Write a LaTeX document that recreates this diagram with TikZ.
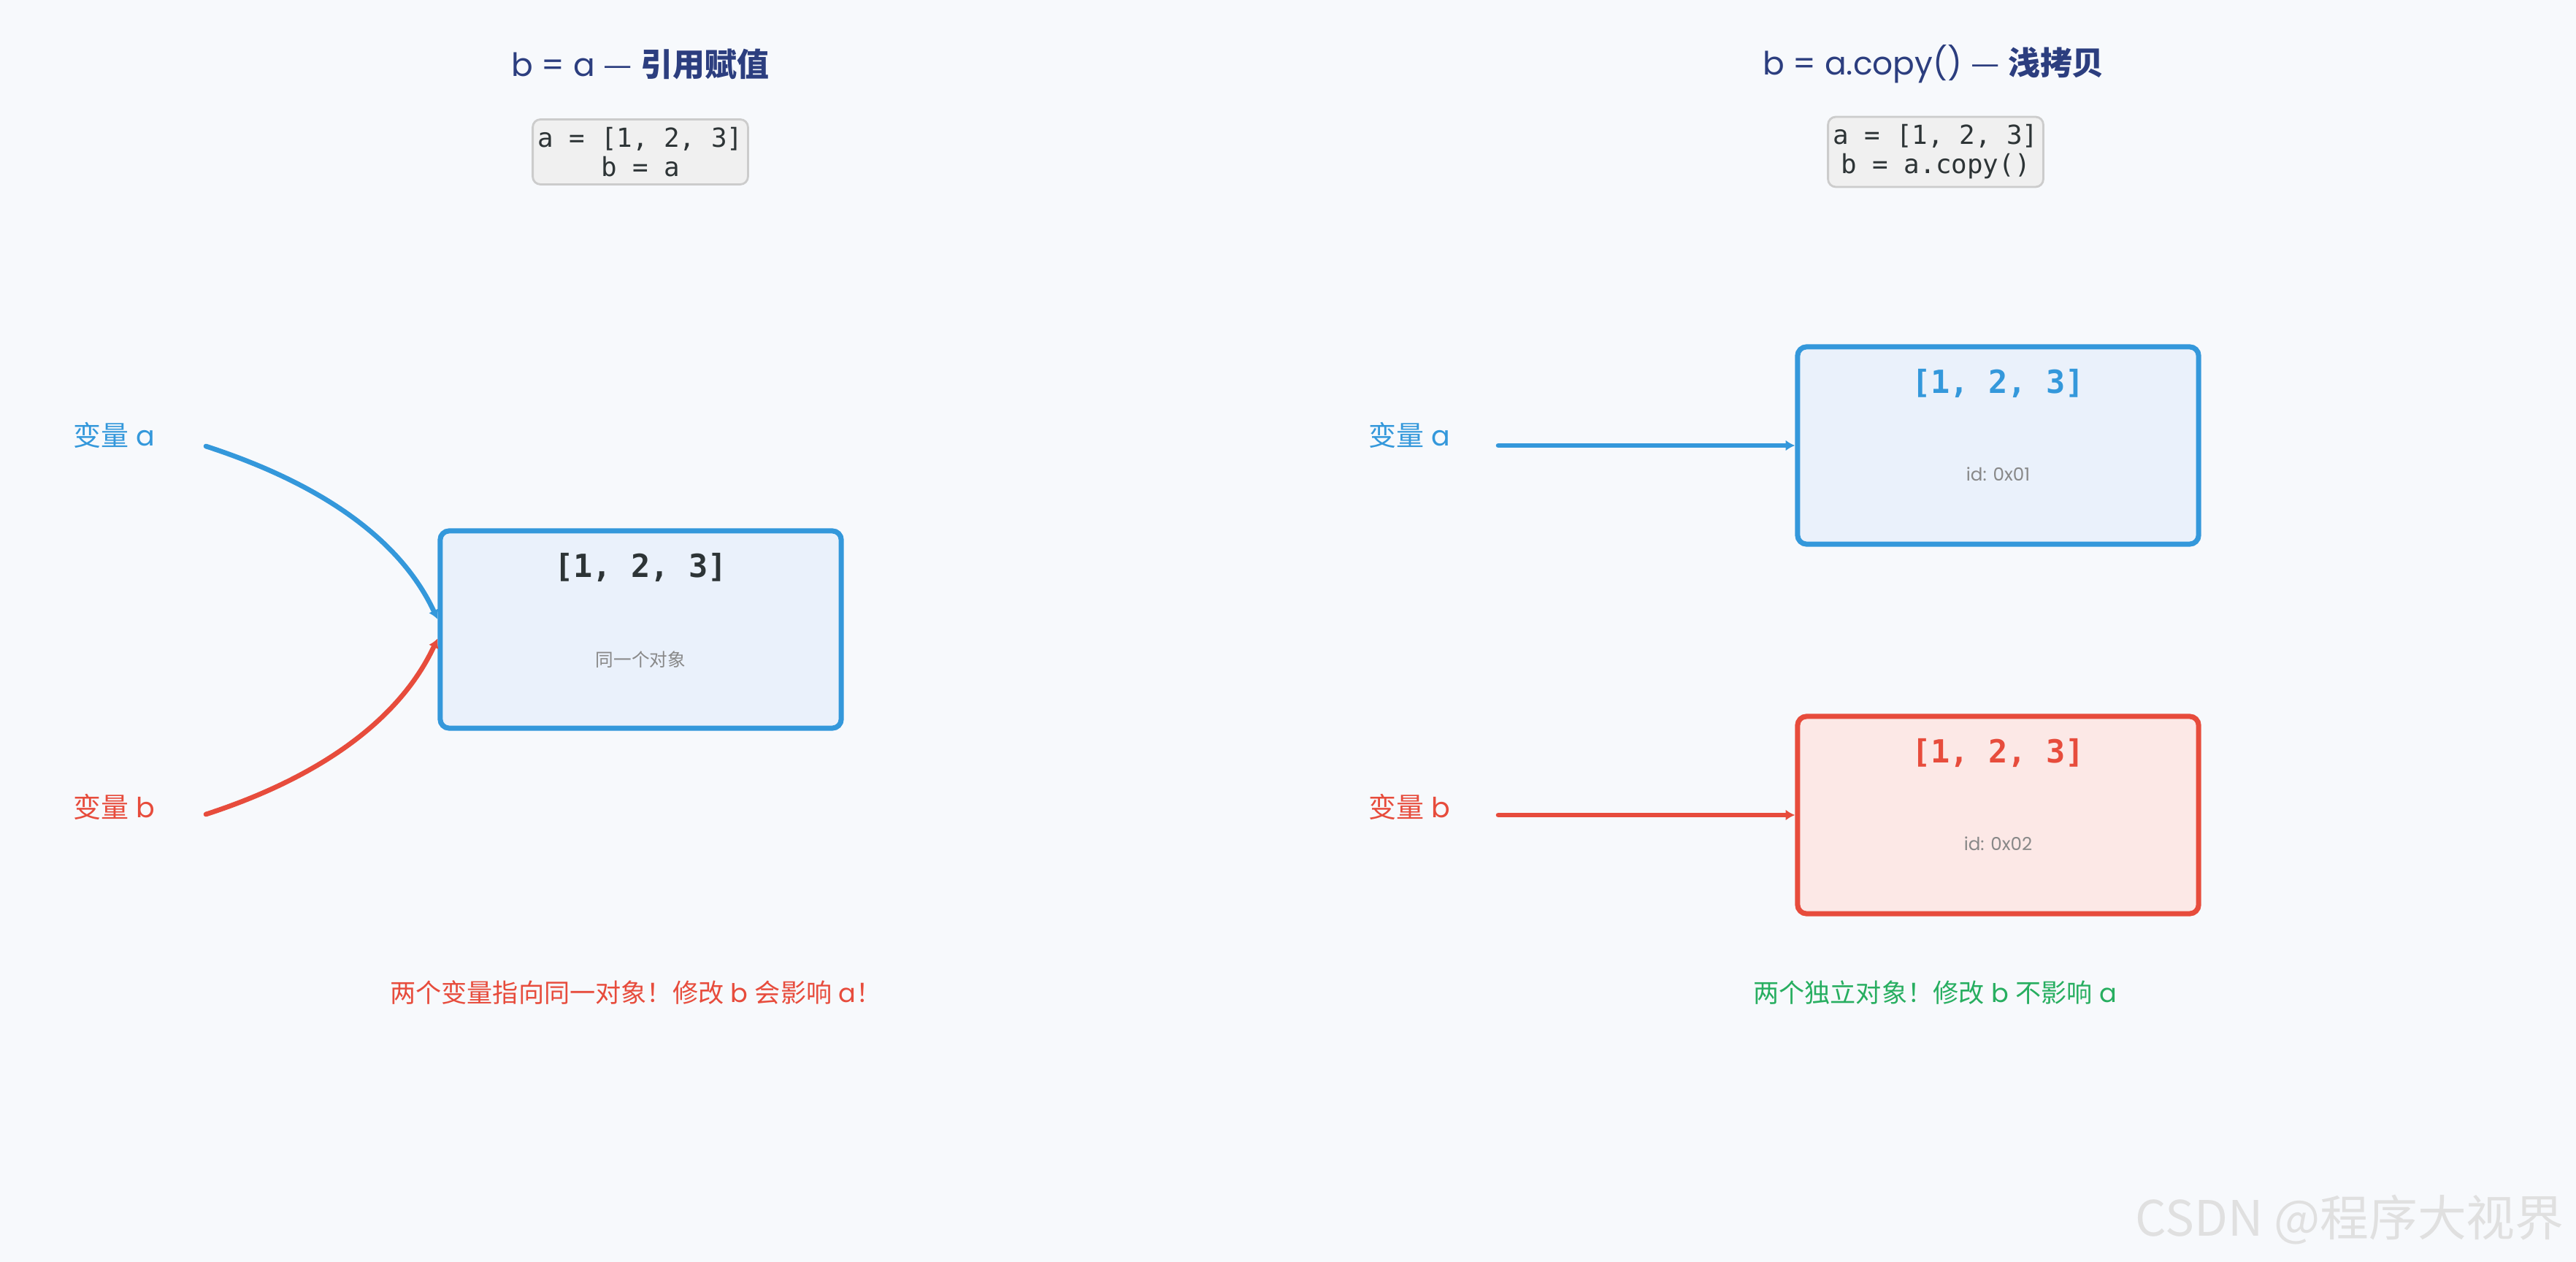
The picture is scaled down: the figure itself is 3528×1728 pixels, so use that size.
\documentclass[tikz,border=0pt]{standalone}
\usepackage{fontspec}
\setmainfont{Poppins}
\setmonofont{DejaVu Sans Mono}
\newfontfamily\cjk{Noto Sans CJK SC}
\usetikzlibrary{arrows.meta,calc,positioning}
\definecolor{paper}{HTML}{F7F9FC}
\definecolor{navy}{HTML}{2C3E7F}
\definecolor{sky}{HTML}{3498DB}
\definecolor{coral}{HTML}{E74C3C}
\definecolor{leaf}{HTML}{27AE60}
\definecolor{ink}{HTML}{2D3436}
\definecolor{mist}{HTML}{888888}
\definecolor{codebg}{HTML}{F0F0F0}
\definecolor{codeline}{HTML}{CCCCCC}
\definecolor{skyfill}{HTML}{EAF1FB}
\definecolor{coralfill}{HTML}{FCE8E6}

\begin{document}
\begin{tikzpicture}[x=0.01cm, y=-0.01cm, >={Latex[length=3.6pt,width=4.2pt]},
  title/.style={text=navy, font=\fontsize{12.5}{14}\selectfont},
  code/.style={draw=codeline, line width=0.8pt, fill=codebg, rounded corners=3pt, align=center, text=ink, inner xsep=2pt, inner ysep=3pt, font=\fontsize{10.2}{11.4}\selectfont\ttfamily},
  obj/.style={draw, line width=2pt, rounded corners=3.5pt, minimum width=5.49cm, minimum height=2.7cm},
  val/.style={font=\fontsize{12.4}{14}\selectfont\ttfamily\bfseries},
  note/.style={text=mist, font=\fontsize{7}{8}\selectfont},
  var/.style={anchor=west, font=\fontsize{10.8}{12}\selectfont},
  msg/.style={font=\fontsize{10}{12}\selectfont},
  ref/.style={->, line width=1.9pt, line cap=round}]
  \fill[paper] (0,0) rectangle (3528,1728);

  % left: reference assignment
  \node[title] (titleL) at (877,88) {b = a {\cjk —} {\cjk\bfseries 引用赋值}};
  \node[code] (codeL) at (877,208) {a = [1, 2, 3]\\b = a};
  \node[obj, draw=sky, fill=skyfill] (objL) at (877.5,862) {};
  \node[val, text=ink] (valL) at ($(objL.north)+(0,54)$) {[1, 2, 3]};
  \node[note] (noteL) at ($(objL.north)+(0,180)$) {\cjk 同一个对象};
  \node[var, text=sky] (varLa) at (88,596) {{\cjk 变量} a};
  \node[var, text=coral] (varLb) at (88,1105) {{\cjk 变量} b};
  \coordinate (tailLa) at (282,611);
  \coordinate (tailLb) at (282,1115);
  \draw[ref, sky] (tailLa) .. controls +(169,55) and +(-48,-103) .. ([yshift=4pt]objL.west);
  \draw[ref, coral] (tailLb) .. controls +(169,-55) and +(-48,103) .. ([yshift=-3.5pt]objL.west);
  \node[msg, text=coral] (msgL) at (871,1359) {{\cjk 两个变量指向同一对象！修改} b {\cjk 会影响} a{\cjk ！}};

  % right: shallow copy
  \node[title] (titleR) at (2648,88) {b = a.copy() {\cjk —} {\cjk\bfseries 浅拷贝}};
  \node[code] (codeR) at (2651,208) {a = [1, 2, 3]\\b = a.copy()};
  \node[obj, draw=sky, fill=skyfill] (objA) at (2736.5,610) {};
  \node[val, text=sky] (valA) at ($(objA.north)+(0,54)$) {[1, 2, 3]};
  \node[note] (noteA) at ($(objA.north)+(0,178)$) {id: 0x01};
  \node[obj, draw=coral, fill=coralfill] (objB) at (2736.5,1116) {};
  \node[val, text=coral] (valB) at ($(objB.north)+(0,54)$) {[1, 2, 3]};
  \node[note] (noteB) at ($(objB.north)+(0,178)$) {id: 0x02};
  \node[var, text=sky] (varRa) at (1862,596) {{\cjk 变量} a};
  \node[var, text=coral] (varRb) at (1862,1105) {{\cjk 变量} b};
  \coordinate (tailRa) at (2052,610);
  \coordinate (tailRb) at (2052,1116);
  \draw[ref, sky] (tailRa) -- (objA.west);
  \draw[ref, coral] (tailRb) -- (objB.west);
  \node[msg, text=leaf] (msgR) at (2650,1359) {{\cjk 两个独立对象！修改} b {\cjk 不影响} a};

  \node[anchor=east, text=black!12, font=\fontsize{19}{21}\selectfont\cjk] (mark) at (3524,1670) {CSDN @程序大视界};
\end{tikzpicture}
\end{document}
